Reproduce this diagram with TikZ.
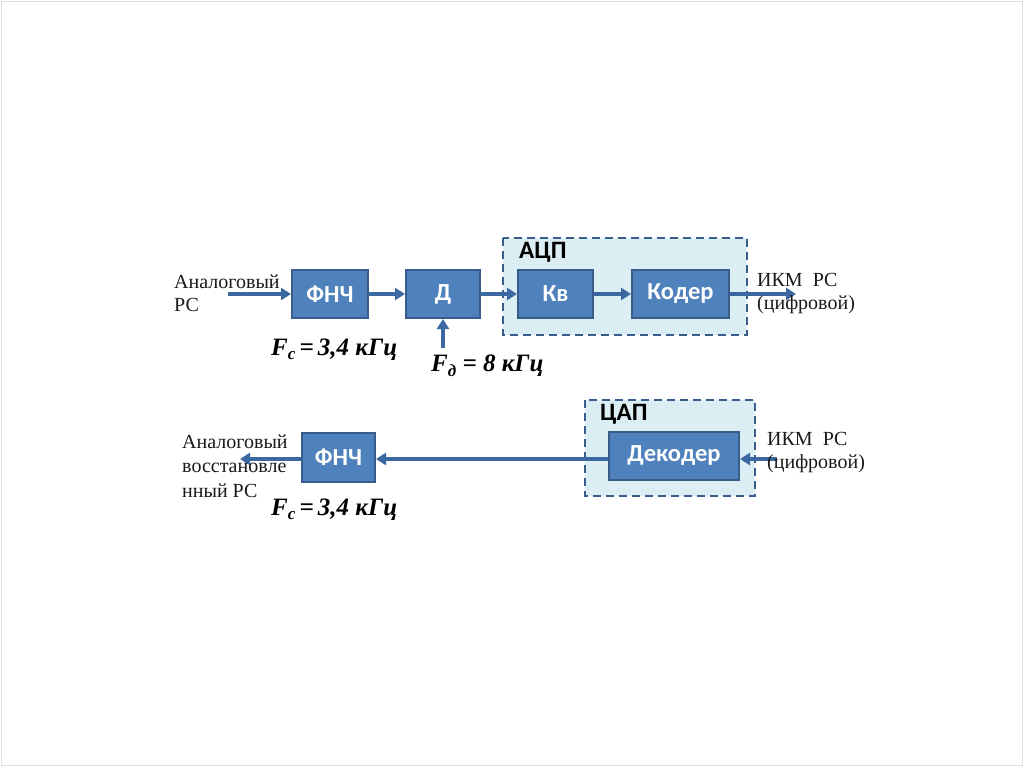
\documentclass[tikz,border=0pt]{standalone}
\usepackage{fontspec}
\setmainfont{Liberation Serif}
\newfontfamily\boxfont{Carlito}
\usetikzlibrary{arrows.meta}
\definecolor{boxfill}{HTML}{4F81BD}
\definecolor{boxline}{HTML}{385D8A}
\definecolor{arrowc}{HTML}{3B68A0}
\definecolor{groupfill}{HTML}{DBEEF4}
\definecolor{txt}{HTML}{1A1A1A}
\tikzset{
  blk/.style={draw=boxline, line width=2pt, fill=boxfill, text=white,
    font=\boxfont\bfseries\fontsize{24.5}{28}\selectfont, inner sep=0pt},
  grp/.style={draw=boxline, line width=2pt, dash pattern=on 8pt off 5pt, fill=groupfill},
  conn/.style={draw=arrowc, line width=3.4pt, -{Triangle[length=10pt,width=12pt]}},
  lbl/.style={text=txt, font=\fontsize{20}{23}\selectfont, align=left, anchor=west, inner sep=0pt},
  grplbl/.style={text=black, font=\boxfont\bfseries\fontsize{25}{28}\selectfont, anchor=west, inner sep=0pt},
  freq/.style={text=black, font=\bfseries\itshape\fontsize{25}{28}\selectfont, anchor=west, inner sep=0pt}
}
\begin{document}
\begin{tikzpicture}[x=1pt,y=-1pt]
\useasboundingbox (0,0) rectangle (1024,767);
\draw[gray!25, line width=0.8pt] (1.5,1.5) rectangle (1022.5,765.5);
% groups
\path[grp] (503,238) rectangle (747,335);
\path[grp] (585,400) rectangle (755,496);
\node[grplbl] (adc) at (519,252) {АЦП};
\node[grplbl] (dac) at (600,414) {ЦАП};
% top row
\node[blk, minimum width=76pt, minimum height=48pt] (f1) at (330,294) {ФНЧ};
\node[blk, minimum width=74pt, minimum height=48pt] (d) at (443,294) {Д};
\node[blk, minimum width=75pt, minimum height=48pt] (kv) at (555.5,294) {Кв};
\node[blk, minimum width=97pt, minimum height=48pt] (kod) at (680.5,294) {Кодер};
\coordinate (in1) at (228,294);
\coordinate (out1) at (796,294);
\coordinate (fd) at (443,348);
\draw[conn] (in1) -- (f1);
\draw[conn] (f1) -- (d);
\draw[conn] (d) -- (kv);
\draw[conn] (kv) -- (kod);
\draw[conn] (kod) -- (out1);
\draw[conn] (fd) -- (d);
\node[lbl] (lin) at (174,293.5) {Аналоговый\\РС};
\node[lbl] (lout) at (757,293.5) {ИКМ\ \ РС\\(цифровой)};
\node[freq] (fc1) at (271,350) {F\raisebox{-0.35ex}{\fontsize{17}{18}\selectfont c}\,=\,3,4 кГц};
\node[freq] (fd1) at (431,366) {F\raisebox{-0.4ex}{\fontsize{17}{18}\selectfont д} = 8 кГц};
% bottom row
\node[blk, minimum width=130pt, minimum height=48pt] (dek) at (674,456) {Декодер};
\node[blk, minimum width=73pt, minimum height=49pt] (f2) at (338.5,457.5) {ФНЧ};
\coordinate (in2) at (777,459);
\coordinate (out2) at (240,459);
\draw[conn] (in2) -- (dek.east |- in2);
\draw[conn] (dek.west |- in2) -- (f2.east |- in2);
\draw[conn] (f2.west |- in2) -- (out2);
\node[lbl, font=\fontsize{20}{24.5}\selectfont] (lrec) at (182,466) {Аналоговый\\восстановле\\нный РС};
\node[lbl] (lin2) at (767,453) {ИКМ\ \ РС\\(цифровой)};
\node[freq] (fc2) at (271,510) {F\raisebox{-0.35ex}{\fontsize{17}{18}\selectfont c}\,=\,3,4 кГц};
\end{tikzpicture}
\end{document}
